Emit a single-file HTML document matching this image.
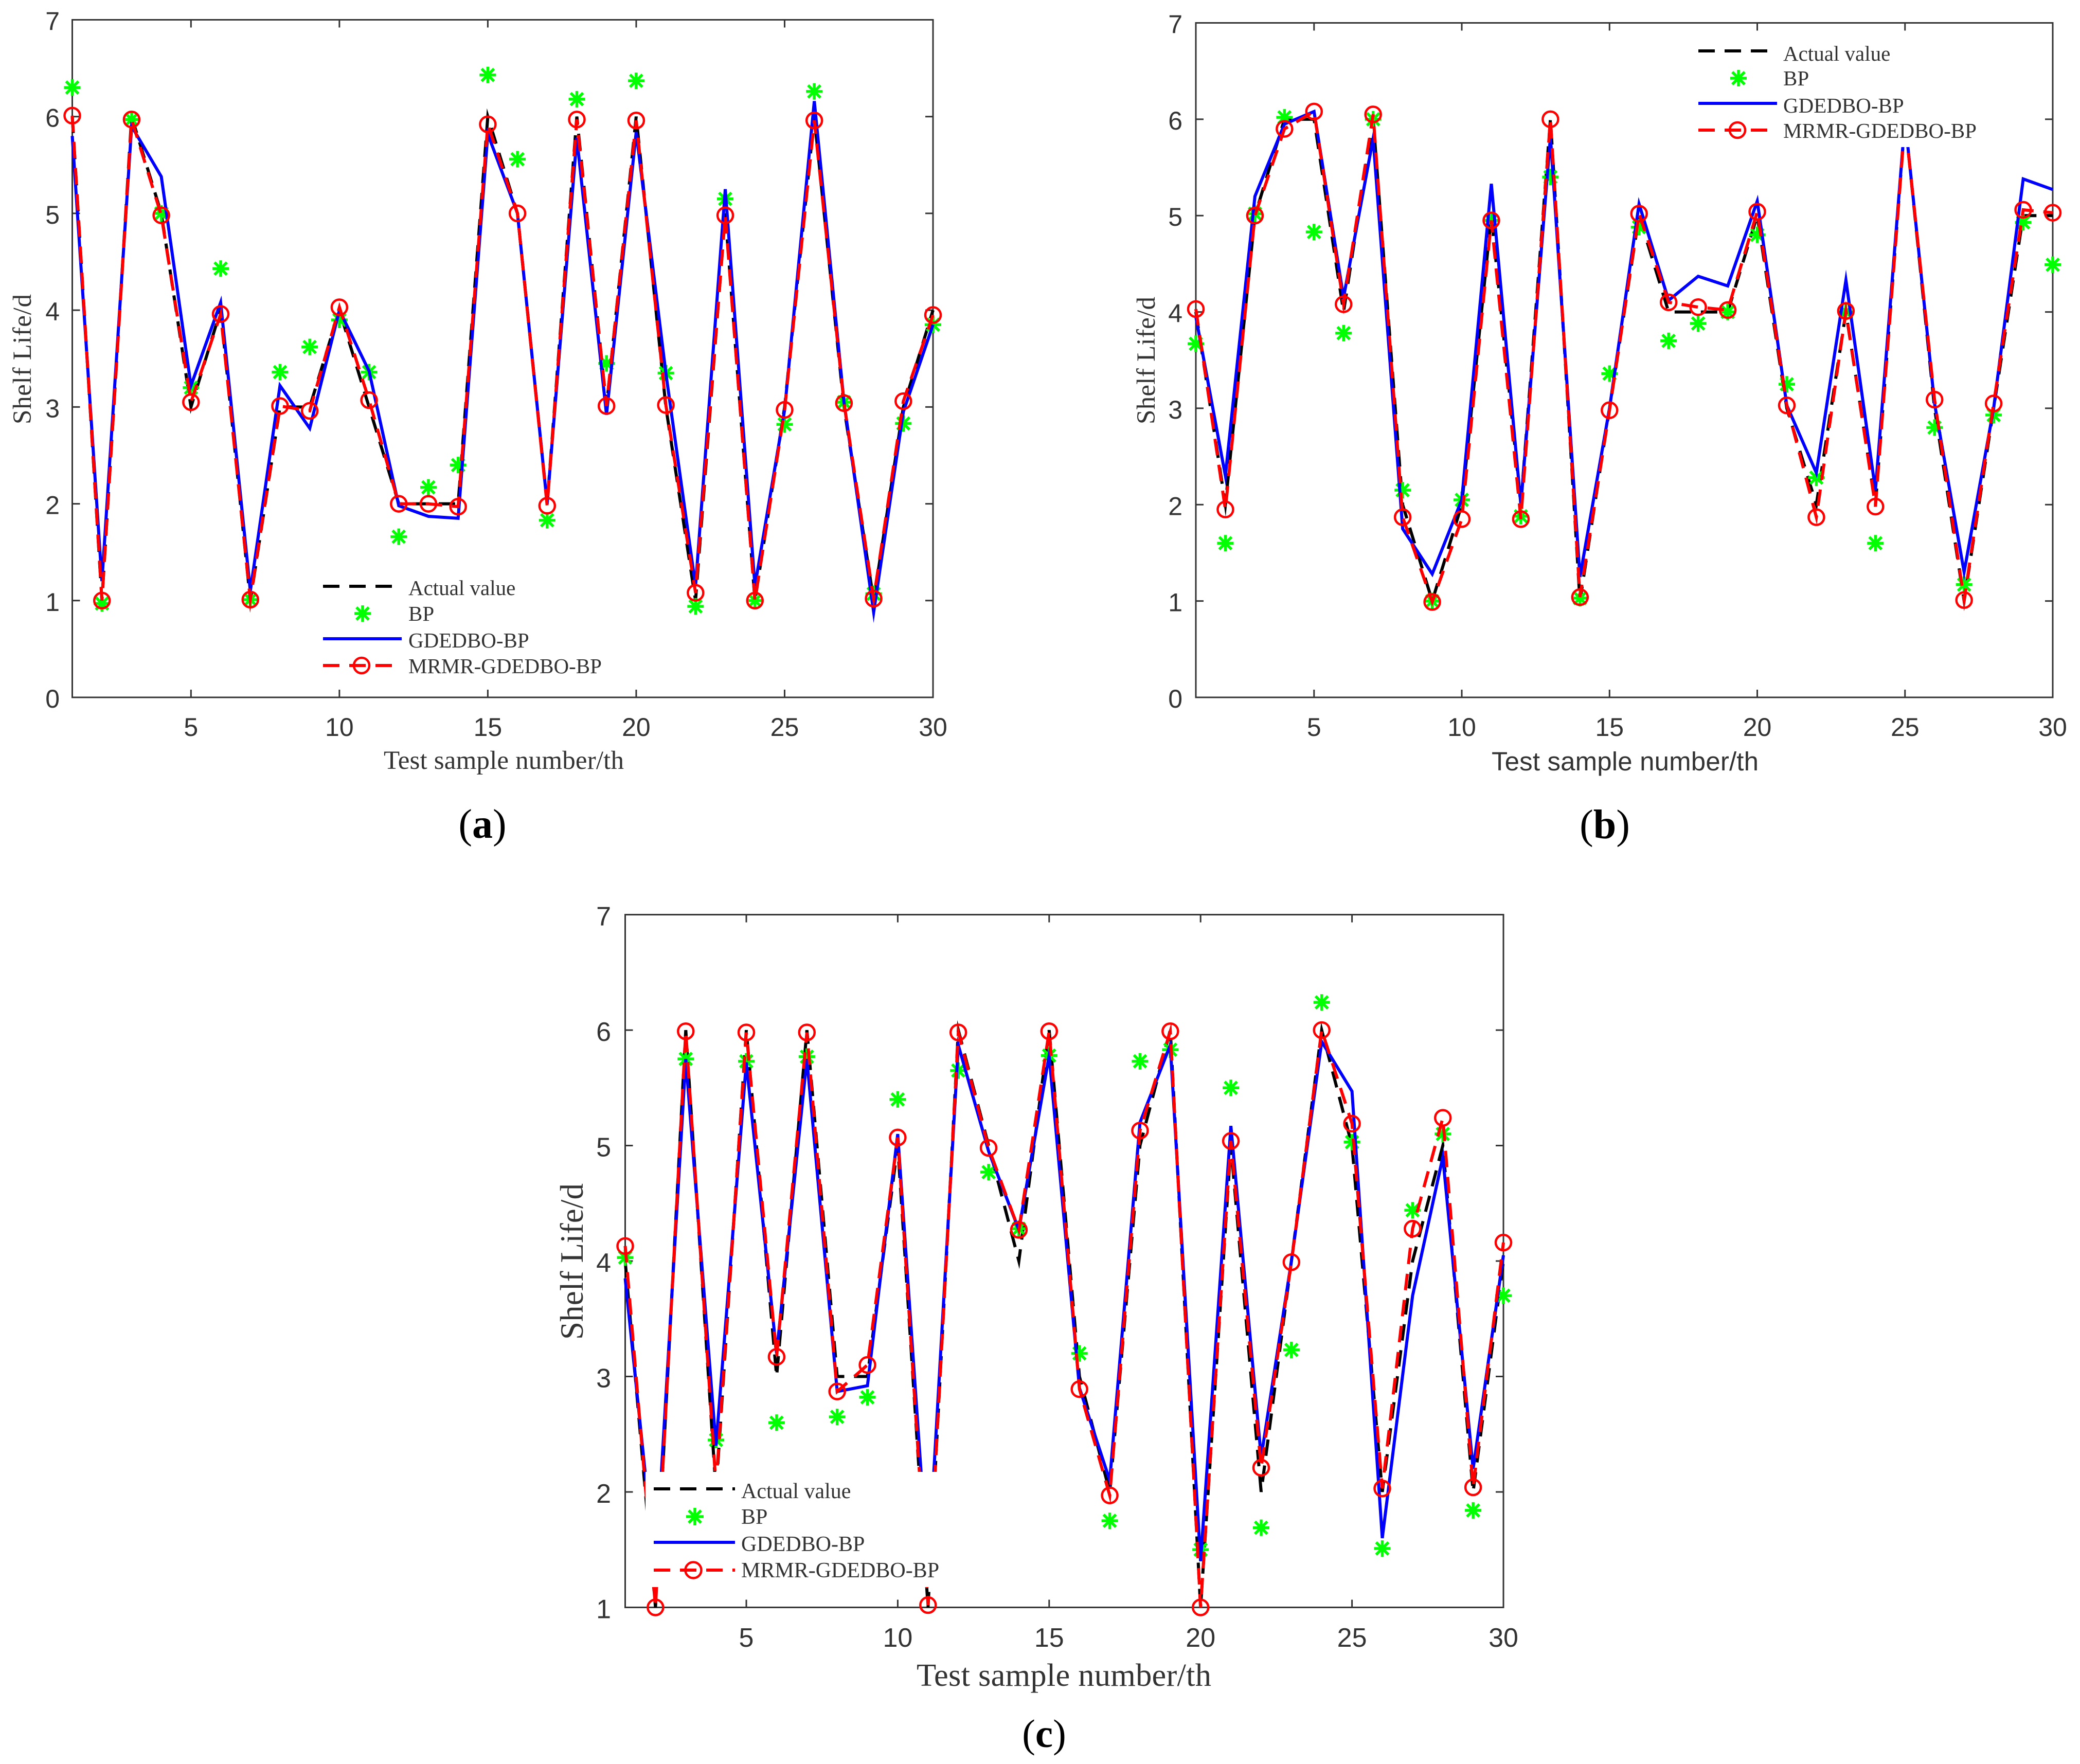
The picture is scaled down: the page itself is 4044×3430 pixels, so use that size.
<!DOCTYPE html>
<html lang="en">
<head>
<meta charset="utf-8">
<title>Shelf life prediction comparison</title>
<style>
html,body{margin:0;padding:0;background:#fff;}
svg{display:block;}
.serif{font-family:"Liberation Serif",serif;fill:#333;}
.sans{font-family:"Liberation Sans",sans-serif;fill:#333;}
.legend-text{font-family:"Liberation Serif",serif;fill:#333;font-size:41px;}
</style>
</head>
<body>
<svg id="figure" xmlns="http://www.w3.org/2000/svg" width="4044" height="3430" viewBox="0 0 4044 3430">
  <rect x="0" y="0" width="4044" height="3430" fill="#fff"/>

  <!-- Panel a -->
  <g id="panel-a">
    <g id="plot-a"></g>
    <g>
      <rect x="622" y="1118" width="556" height="204" fill="#fff"/>
      <line x1="628" x2="781" y1="1140" y2="1140" stroke="#000" stroke-width="6" stroke-dasharray="32 19"/>
      <text class="legend-text" x="794" y="1157">Actual value</text>
      <path d="M705 1177V1209M689 1193H721M693 1181L717 1205M693 1205L717 1181" stroke="#00ff00" stroke-width="5.5" fill="none"/>
      <text class="legend-text" x="794" y="1207">BP</text>
      <line x1="628" x2="781" y1="1242" y2="1242" stroke="#0000ff" stroke-width="6"/>
      <text class="legend-text" x="794" y="1259">GDEDBO-BP</text>
      <line x1="628" x2="781" y1="1294" y2="1294" stroke="#ff0000" stroke-width="6" stroke-dasharray="32 19"/>
      <circle cx="703" cy="1294" r="15" fill="none" stroke="#ff0000" stroke-width="4.5"/>
      <text class="legend-text" x="794" y="1309">MRMR-GDEDBO-BP</text>
    </g>
    <text class="serif" x="746" y="1495" font-size="51" textLength="467">Test sample number/th</text>
    <text class="serif" transform="translate(60 825) rotate(-90)" font-size="51" textLength="253">Shelf Life/d</text>
    <text x="938" y="1629" text-anchor="middle" font-size="80" font-family="Liberation Serif, serif" fill="#000">(<tspan font-weight="bold">a</tspan>)</text>
  </g>

  <!-- Panel b -->
  <g id="panel-b">
    <g id="plot-b"></g>
    <g>
      <rect x="3295" y="70" width="556" height="216" fill="#fff"/>
      <line x1="3302" x2="3455" y1="99" y2="99" stroke="#000" stroke-width="6" stroke-dasharray="32 19"/>
      <text class="legend-text" x="3467" y="118">Actual value</text>
      <path d="M3380 136V168M3364 152H3396M3368 140L3392 164M3368 164L3392 140" stroke="#00ff00" stroke-width="5.5" fill="none"/>
      <text class="legend-text" x="3467" y="166">BP</text>
      <line x1="3302" x2="3455" y1="201" y2="201" stroke="#0000ff" stroke-width="6"/>
      <text class="legend-text" x="3467" y="219">GDEDBO-BP</text>
      <line x1="3302" x2="3455" y1="253" y2="253" stroke="#ff0000" stroke-width="6" stroke-dasharray="32 19"/>
      <circle cx="3378" cy="253" r="15" fill="none" stroke="#ff0000" stroke-width="4.5"/>
      <text class="legend-text" x="3467" y="268">MRMR-GDEDBO-BP</text>
    </g>
    <text class="sans" x="2900" y="1498" font-size="51" textLength="519">Test sample number/th</text>
    <text class="serif" transform="translate(2245 825) rotate(-90)" font-size="51" textLength="248">Shelf Life/d</text>
    <text x="3120" y="1630" text-anchor="middle" font-size="80" font-family="Liberation Serif, serif" fill="#000">(<tspan font-weight="bold">b</tspan>)</text>
  </g>

  <!-- Panel c -->
  <g id="panel-c">
    <g id="plot-c"></g>
    <g>
      <rect x="1255" y="2862" width="575" height="224" fill="#fff"/>
      <line x1="1271" x2="1429" y1="2895" y2="2895" stroke="#000" stroke-width="6" stroke-dasharray="32 19"/>
      <text class="legend-text" style="font-size:42px" x="1441" y="2913">Actual value</text>
      <path d="M1351 2932V2966M1334 2949H1368M1339 2937L1363 2961M1339 2961L1363 2937" stroke="#00ff00" stroke-width="5.5" fill="none"/>
      <text class="legend-text" style="font-size:42px" x="1441" y="2963">BP</text>
      <line x1="1271" x2="1429" y1="2999" y2="2999" stroke="#0000ff" stroke-width="6"/>
      <text class="legend-text" style="font-size:42px" x="1441" y="3016">GDEDBO-BP</text>
      <line x1="1271" x2="1429" y1="3053" y2="3053" stroke="#ff0000" stroke-width="6" stroke-dasharray="32 19"/>
      <circle cx="1348" cy="3053" r="15.5" fill="none" stroke="#ff0000" stroke-width="4.5"/>
      <text class="legend-text" style="font-size:42px" x="1441" y="3067">MRMR-GDEDBO-BP</text>
    </g>
    <text class="serif" x="1782" y="3278" font-size="62.5" textLength="573">Test sample number/th</text>
    <text class="serif" transform="translate(1133 2605) rotate(-90)" font-size="63" textLength="304">Shelf Life/d</text>
    <text x="2030" y="3397" text-anchor="middle" font-size="77" font-family="Liberation Serif, serif" fill="#000">(<tspan font-weight="bold">c</tspan>)</text>
  </g>
</svg>

<script>
// ---- Shared axis data ----
const sampleNumbers = [1,2,3,4,5,6,7,8,9,10,11,12,13,14,15,16,17,18,19,20,21,22,23,24,25,26,27,28,29,30];
const xTickValues = [5,10,15,20,25,30];
const xTickLabels = ['5','10','15','20','25','30'];
const yTickValuesAB = [0,1,2,3,4,5,6,7];
const yTickLabelsAB = ['0','1','2','3','4','5','6','7'];
const yTickValuesC = [1,2,3,4,5,6,7];
const yTickLabelsC = ['1','2','3','4','5','6','7'];

// ---- Panel (a) series ----
const actualA = [6,1,6,5,3,4,1,3,3,4,3,2,2,2,6,5,2,6,3,6,3,1,5,1,3,6,3,1,3,4];
const bpA = [6.30,0.97,5.97,5.00,3.20,4.43,1.01,3.36,3.62,3.90,3.36,1.66,2.17,2.40,6.43,5.56,1.83,6.18,3.45,6.37,3.35,0.94,5.15,1.00,2.82,6.26,3.05,1.07,2.83,3.85];
const gdedboA = [5.80,1.20,5.90,5.38,3.22,4.08,1.10,3.22,2.78,4.00,3.37,1.98,1.87,1.85,5.82,5.00,2.00,5.78,2.92,5.84,3.35,1.15,5.25,1.15,2.97,6.16,3.05,0.88,2.95,3.85];
const mrmrA = [6.01,1.00,5.97,4.98,3.05,3.96,1.01,3.01,2.96,4.03,3.07,2.00,2.00,1.97,5.92,5.00,1.98,5.97,3.01,5.96,3.02,1.08,4.98,1.00,2.97,5.96,3.04,1.02,3.06,3.95];

// ---- Panel (b) series ----
const actualB = [4,2,5,6,6,4,6,2,1,2,5,2,6,1,3,5,4,4,4,5,3,2,4,2,6,3,1,3,5,5];
const bpB = [3.67,1.60,5.02,6.02,4.83,3.78,6.00,2.15,1.00,2.05,4.95,1.88,5.40,1.03,3.36,4.88,3.70,3.88,4.00,4.80,3.25,2.28,4.00,1.60,6.20,2.80,1.17,2.93,4.93,4.49];
const gdedboB = [3.95,2.30,5.20,5.95,6.08,4.15,5.80,1.75,1.28,2.05,5.33,2.00,5.82,1.25,3.00,5.12,4.12,4.37,4.27,5.15,3.03,2.33,4.33,2.15,6.00,3.05,1.30,3.00,5.38,5.27];
const mrmrB = [4.03,1.95,5.00,5.90,6.08,4.08,6.05,1.87,0.99,1.85,4.95,1.85,6.00,1.04,2.98,5.02,4.10,4.05,4.02,5.04,3.03,1.87,4.01,1.98,5.98,3.09,1.01,3.05,5.06,5.03];

// ---- Panel (c) series ----
const actualC = [4,1,6,2,6,3,6,3,3,5,1,6,5,4,6,3,2,5,6,1,5,2,4,6,5,2,4,5,2,4];
const bpC = [4.03,1.50,5.75,2.45,5.73,2.60,5.77,2.65,2.82,5.40,1.50,5.65,4.77,4.28,5.78,3.20,1.75,5.73,5.83,1.50,5.50,1.69,3.23,6.24,5.03,1.51,4.44,5.10,1.84,3.70];
const gdedboC = [3.85,1.30,5.75,2.40,5.72,3.20,5.75,2.87,2.92,5.10,1.30,5.87,4.95,4.27,5.78,2.90,2.10,5.20,5.87,1.40,5.17,2.30,4.00,5.90,5.47,1.60,3.70,4.90,2.20,4.05];
const mrmrC = [4.13,1.00,5.99,2.05,5.98,3.17,5.98,2.87,3.10,5.07,1.02,5.98,4.98,4.27,5.99,2.89,1.97,5.13,5.99,1.00,5.04,2.21,3.99,6.00,5.19,2.03,4.28,5.24,2.04,4.16];

const SVG_NS = 'http://www.w3.org/2000/svg';

function drawPanel(p) {
  const root = document.getElementById('plot-' + p.key);
  const xScale = function (v) { return p.left + (v - 1) / 29 * (p.right - p.left); };
  const yScale = function (v) { return p.bottom - (v - p.yMin) / (7 - p.yMin) * (p.bottom - p.top); };

  function seriesPath(values) {
    return values.map(function (v, i) {
      return (i ? 'L' : 'M') + xScale(sampleNumbers[i]).toFixed(1) + ' ' + yScale(v).toFixed(1);
    }).join('');
  }

  // Axes frame
  const frame = document.createElementNS(SVG_NS, 'rect');
  
  
  frame.setAttribute('x', p.left);
  frame.setAttribute('y', p.top);
  frame.setAttribute('width', p.right - p.left);
  frame.setAttribute('height', p.bottom - p.top);
  frame.setAttribute('fill', 'none');
  frame.setAttribute('stroke', '#333');
  frame.setAttribute('stroke-width', '3');
  root.appendChild(frame);

  // X ticks and labels
  xTickValues.forEach(function (v, i) {
    const x = xScale(v);
    const tick = document.createElementNS(SVG_NS, 'path');
    
    
    tick.setAttribute('d', 'M' + x + ' ' + p.bottom + 'v-15M' + x + ' ' + p.top + 'v15');
    tick.setAttribute('stroke', '#333');
    tick.setAttribute('stroke-width', '3');
    tick.setAttribute('fill', 'none');
    root.appendChild(tick);

    const label = document.createElementNS(SVG_NS, 'text');
    
    
    label.setAttribute('class', 'sans');
    label.setAttribute('x', x);
    label.setAttribute('y', p.xLabelBaseline);
    label.setAttribute('text-anchor', 'middle');
    label.setAttribute('font-size', p.tickFont);
    label.textContent = xTickLabels[i];
    root.appendChild(label);
  });

  // Y ticks and labels
  p.yTicks.forEach(function (v, i) {
    const y = yScale(v);
    const tick = document.createElementNS(SVG_NS, 'path');
    
    
    tick.setAttribute('d', 'M' + p.left + ' ' + y + 'h15M' + p.right + ' ' + y + 'h-15');
    tick.setAttribute('stroke', '#333');
    tick.setAttribute('stroke-width', '3');
    tick.setAttribute('fill', 'none');
    root.appendChild(tick);

    const label = document.createElementNS(SVG_NS, 'text');
    
    
    label.setAttribute('class', 'sans');
    label.setAttribute('x', p.yLabelRight);
    label.setAttribute('y', y + p.yLabelOffset);
    label.setAttribute('text-anchor', 'end');
    label.setAttribute('font-size', p.tickFont);
    label.textContent = p.yLabels[i];
    root.appendChild(label);
  });

  // Actual value (black dashed)
  const actualLine = document.createElementNS(SVG_NS, 'path');
  
  
  actualLine.setAttribute('d', seriesPath(p.actual));
  actualLine.setAttribute('fill', 'none');
  actualLine.setAttribute('stroke', '#000');
  actualLine.setAttribute('stroke-width', '6');
  actualLine.setAttribute('stroke-dasharray', '32 19');
  actualLine.setAttribute('stroke-linejoin', 'miter');
  actualLine.setAttribute('stroke-miterlimit', '8');
  root.appendChild(actualLine);

  // BP (green asterisks)
  p.bp.forEach(function (v, i) {
    const cx = xScale(sampleNumbers[i]);
    const cy = yScale(v);
    const r = 16;
    const d = 12;
    const star = document.createElementNS(SVG_NS, 'path');
    
    
    star.setAttribute('d',
      'M' + cx + ' ' + (cy - r) + 'V' + (cy + r) +
      'M' + (cx - r) + ' ' + cy + 'H' + (cx + r) +
      'M' + (cx - d) + ' ' + (cy - d) + 'L' + (cx + d) + ' ' + (cy + d) +
      'M' + (cx - d) + ' ' + (cy + d) + 'L' + (cx + d) + ' ' + (cy - d));
    star.setAttribute('stroke', '#00ff00');
    star.setAttribute('stroke-width', '5.5');
    star.setAttribute('fill', 'none');
    root.appendChild(star);
  });

  // GDEDBO-BP (blue solid)
  const gdedboLine = document.createElementNS(SVG_NS, 'path');
  
  
  gdedboLine.setAttribute('d', seriesPath(p.gdedbo));
  gdedboLine.setAttribute('fill', 'none');
  gdedboLine.setAttribute('stroke', '#0000ff');
  gdedboLine.setAttribute('stroke-width', '6');
  gdedboLine.setAttribute('stroke-linejoin', 'miter');
  gdedboLine.setAttribute('stroke-miterlimit', '8');
  root.appendChild(gdedboLine);

  // MRMR-GDEDBO-BP (red dashed with circles)
  const mrmrLine = document.createElementNS(SVG_NS, 'path');
  
  
  mrmrLine.setAttribute('d', seriesPath(p.mrmr));
  mrmrLine.setAttribute('fill', 'none');
  mrmrLine.setAttribute('stroke', '#ff0000');
  mrmrLine.setAttribute('stroke-width', '6');
  mrmrLine.setAttribute('stroke-dasharray', '32 19');
  mrmrLine.setAttribute('stroke-linejoin', 'miter');
  mrmrLine.setAttribute('stroke-miterlimit', '8');
  root.appendChild(mrmrLine);

  p.mrmr.forEach(function (v, i) {
    const marker = document.createElementNS(SVG_NS, 'circle');
    
    
    marker.setAttribute('cx', xScale(sampleNumbers[i]));
    marker.setAttribute('cy', yScale(v));
    marker.setAttribute('r', '15');
    marker.setAttribute('fill', 'none');
    marker.setAttribute('stroke', '#ff0000');
    marker.setAttribute('stroke-width', '4.5');
    root.appendChild(marker);
  });
}

drawPanel({key:'a', left:140.5, right:1814, top:38.5, bottom:1356, yMin:0,
  yTicks:yTickValuesAB, yLabels:yTickLabelsAB, tickFont:50, yLabelRight:116, yLabelOffset:20, xLabelBaseline:1431,
  actual:actualA, bp:bpA, gdedbo:gdedboA, mrmr:mrmrA});
drawPanel({key:'b', left:2325, right:3991, top:44.5, bottom:1356, yMin:0,
  yTicks:yTickValuesAB, yLabels:yTickLabelsAB, tickFont:50, yLabelRight:2299, yLabelOffset:20, xLabelBaseline:1431,
  actual:actualB, bp:bpB, gdedbo:gdedboB, mrmr:mrmrB});
drawPanel({key:'c', left:1215.5, right:2923, top:1778.5, bottom:3125.5, yMin:1,
  yTicks:yTickValuesC, yLabels:yTickLabelsC, tickFont:52, yLabelRight:1188, yLabelOffset:21, xLabelBaseline:3202,
  actual:actualC, bp:bpC, gdedbo:gdedboC, mrmr:mrmrC});
</script>
</body>
</html>
